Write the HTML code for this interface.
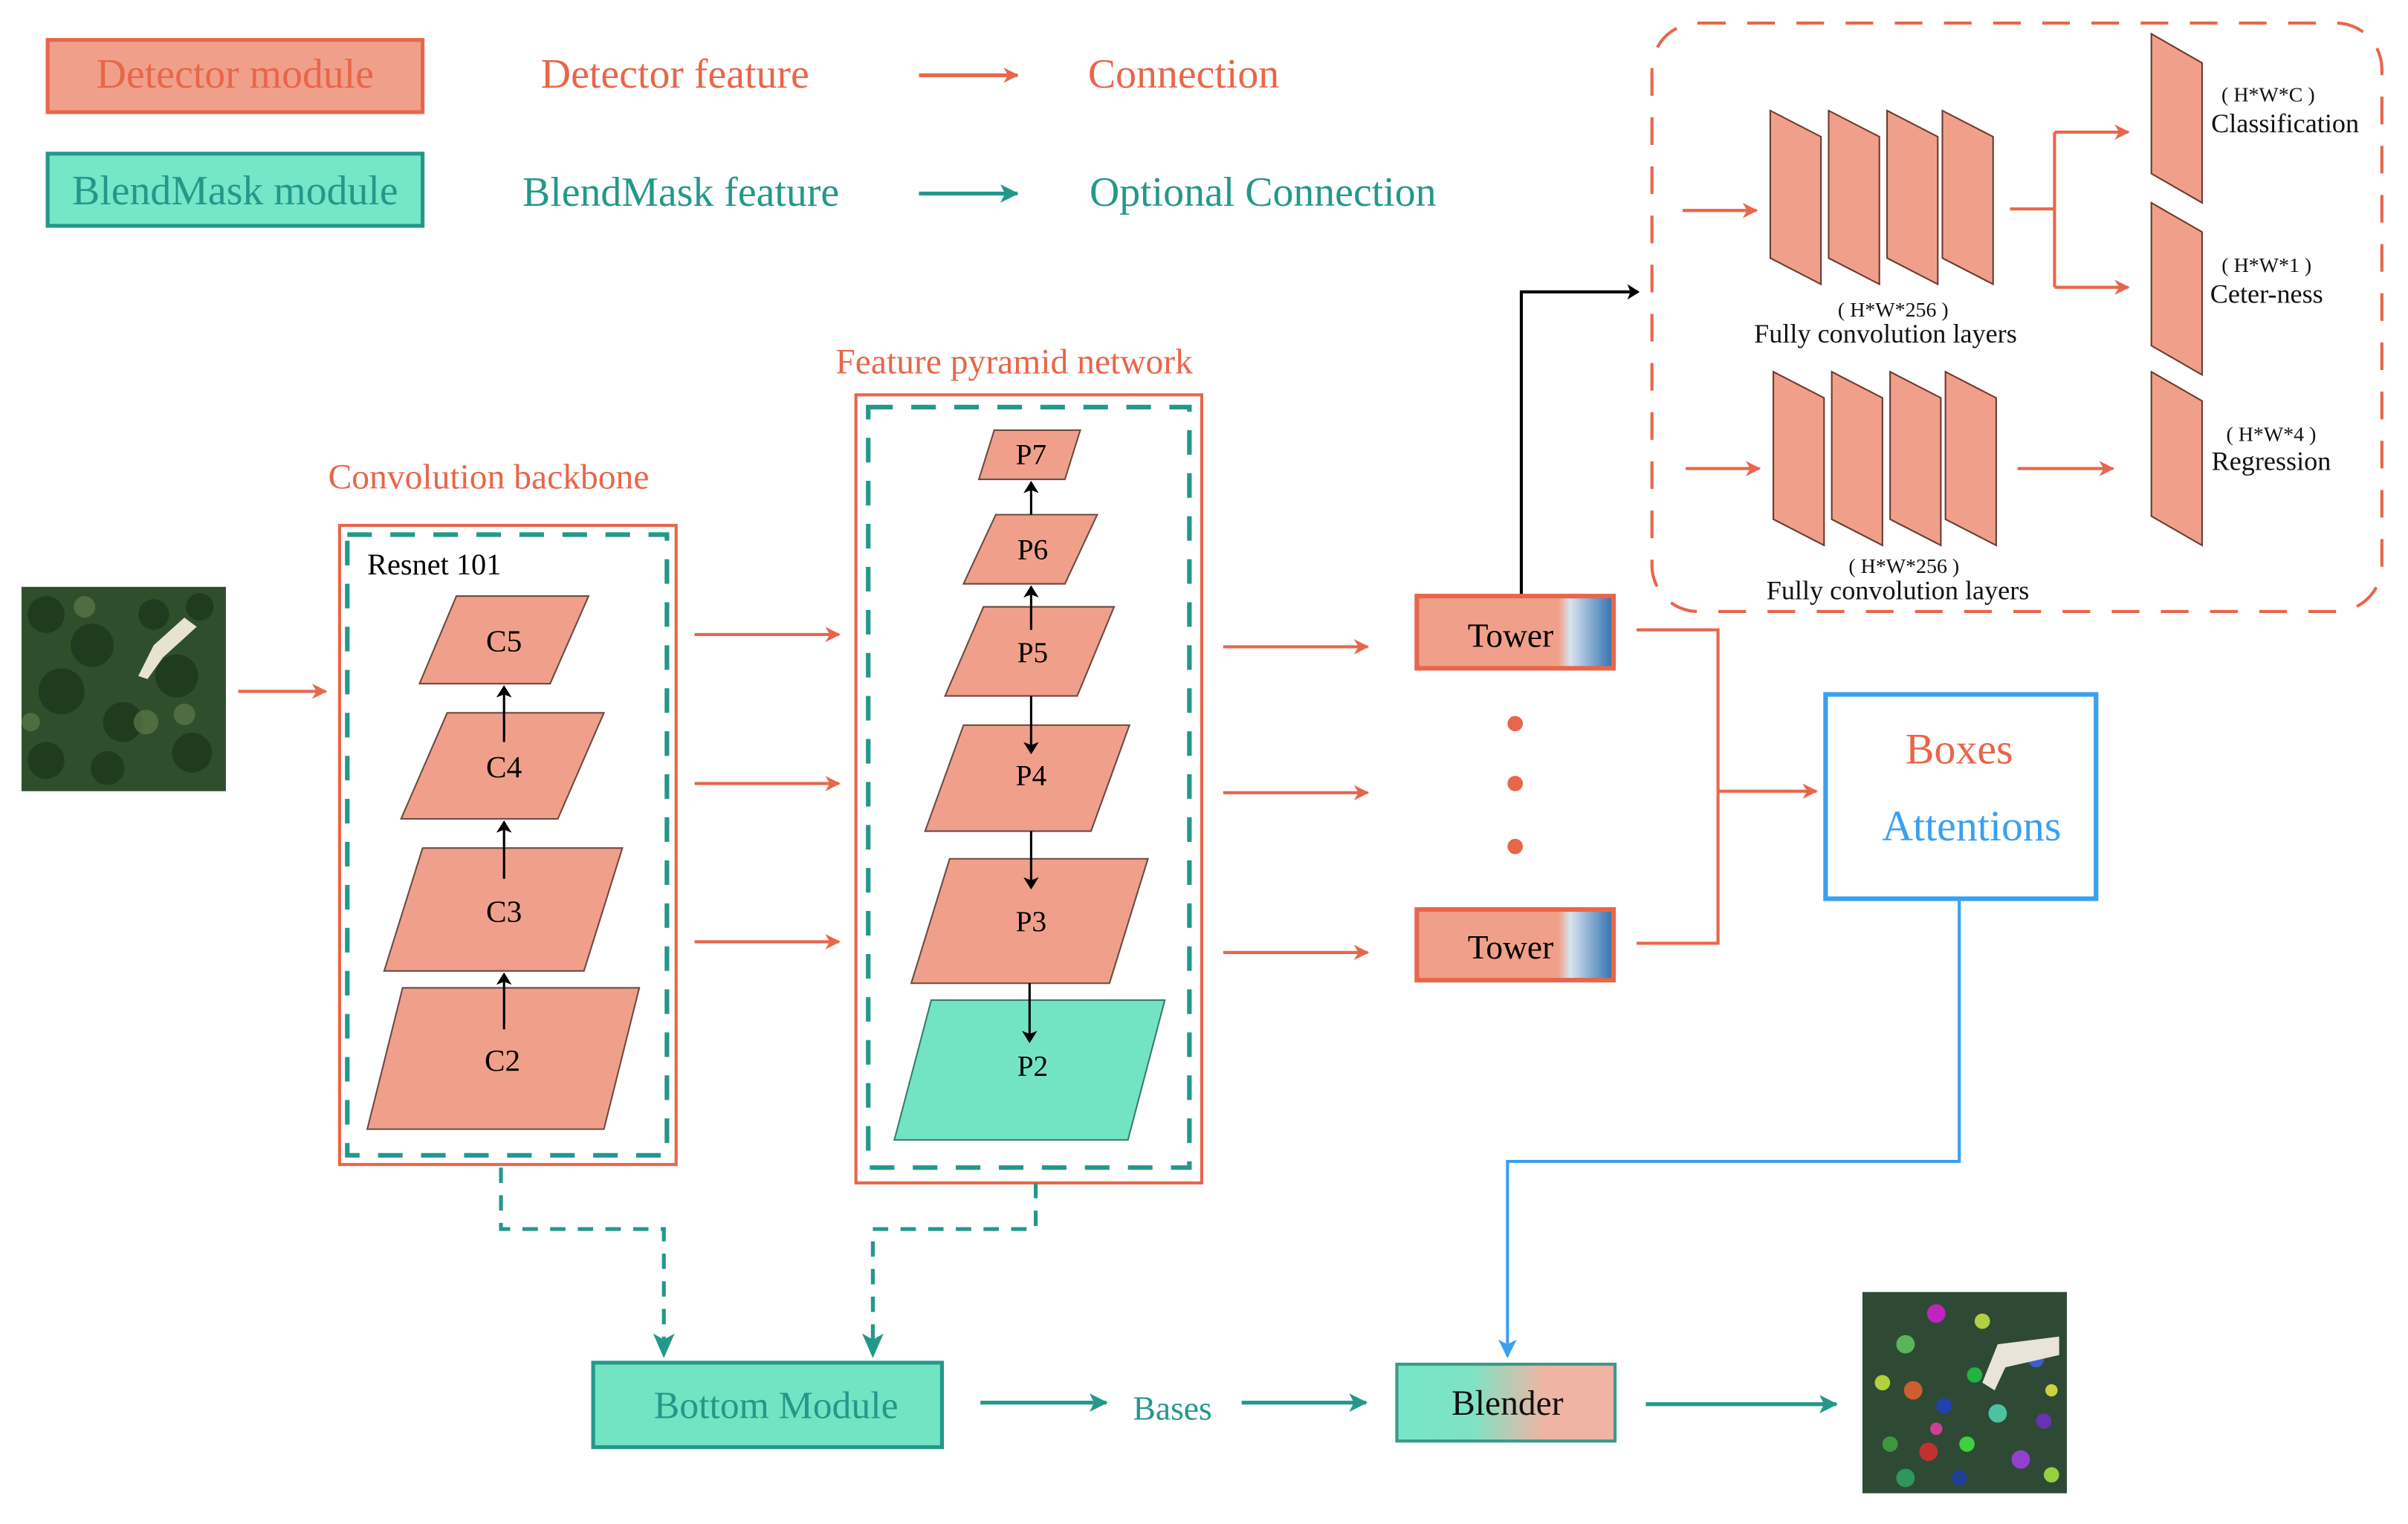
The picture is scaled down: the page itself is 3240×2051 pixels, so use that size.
<!DOCTYPE html>
<html><head><meta charset="utf-8"><style>html,body{margin:0;padding:0;background:#fff}svg{display:block}</style></head><body>
<svg width="3240" height="2051" viewBox="0 0 1567 992" preserveAspectRatio="none" xmlns="http://www.w3.org/2000/svg" font-family="Liberation Serif, serif">
<defs>
<marker id="ao" markerWidth="10" markerHeight="10" refX="9" refY="5" orient="auto" markerUnits="userSpaceOnUse"><path d="M0,0 L10,5 L0,10 L3,5z" fill="#E8664A"/></marker>
<marker id="at" markerWidth="12" markerHeight="12" refX="11" refY="6" orient="auto" markerUnits="userSpaceOnUse"><path d="M0,0 L12,6 L0,12 L3,6z" fill="#23988A"/></marker>
<marker id="ab" markerWidth="8" markerHeight="10" refX="7" refY="5" orient="auto" markerUnits="userSpaceOnUse"><path d="M0,0 L8,5 L0,10 L2,5z" fill="#000"/></marker>
<marker id="abl" markerWidth="12" markerHeight="12" refX="11" refY="6" orient="auto" markerUnits="userSpaceOnUse"><path d="M0,0 L12,6 L0,12 L3,6z" fill="#3AA0F0"/></marker>
<linearGradient id="tw" x1="0" x2="1"><stop offset="0" stop-color="#F0A08A"/><stop offset="0.72" stop-color="#F0A08A"/><stop offset="0.78" stop-color="#d8e4ee"/><stop offset="1" stop-color="#2e6fb0"/></linearGradient>
<linearGradient id="bl" x1="0" x2="1"><stop offset="0" stop-color="#76E6C8"/><stop offset="0.35" stop-color="#80E2C4"/><stop offset="0.68" stop-color="#F0B4A4"/><stop offset="1" stop-color="#F0B4A4"/></linearGradient>
</defs>
<!-- legend -->
<rect x="31" y="26" width="244" height="47" fill="#F0A08A" stroke="#E8664A" stroke-width="2.5"/>
<text x="153" y="57" font-size="27" fill="#E8664A" text-anchor="middle">Detector module</text>
<rect x="31" y="100" width="244" height="47" fill="#76E6C8" stroke="#23988A" stroke-width="2.5"/>
<text x="153" y="133" font-size="27" fill="#23988A" text-anchor="middle">BlendMask module</text>
<text x="352" y="57" font-size="27" fill="#E8664A">Detector feature</text>
<text x="340" y="134" font-size="27" fill="#23988A">BlendMask feature</text>
<line x1="598" y1="49" x2="662" y2="49" stroke="#E8664A" stroke-width="2.5" marker-end="url(#ao)"/>
<line x1="598" y1="126" x2="662" y2="126" stroke="#23988A" stroke-width="2.5" marker-end="url(#at)"/>
<text x="708" y="57" font-size="27" fill="#E8664A">Connection</text>
<text x="709" y="134" font-size="27" fill="#23988A">Optional Connection</text>

<!-- head dashed box -->
<rect x="1075" y="15" width="475" height="383" rx="30" fill="none" stroke="#E8664A" stroke-width="2" stroke-dasharray="18,14"/>
<g fill="#F0A08A" stroke="#6a3a30" stroke-width="1">
<polygon points="1152,72 1185,89 1185,185 1152,168"/>
<polygon points="1190,72 1223,89 1223,185 1190,168"/>
<polygon points="1228,72 1261,89 1261,185 1228,168"/>
<polygon points="1264,72 1297,89 1297,185 1264,168"/>
<polygon points="1154,242 1187,259 1187,355 1154,338"/>
<polygon points="1192,242 1225,259 1225,355 1192,338"/>
<polygon points="1230,242 1263,259 1263,355 1230,338"/>
<polygon points="1266,242 1299,259 1299,355 1266,338"/>
<polygon points="1400,22 1433,41 1433,132 1400,113"/>
<polygon points="1400,132 1433,151 1433,244 1400,225"/>
<polygon points="1400,242 1433,261 1433,355 1400,336"/>
</g>
<g font-size="13.5" text-anchor="middle" fill="#111">
<text x="1232" y="206">( H*W*256 )</text>
<text x="1239" y="373">( H*W*256 )</text>
<text x="1476" y="66">( H*W*C )</text>
<text x="1475" y="177">( H*W*1 )</text>
<text x="1478" y="287">( H*W*4 )</text>
</g>
<g font-size="17.5" text-anchor="middle" fill="#111">
<text x="1227" y="223">Fully convolution layers</text>
<text x="1235" y="390">Fully convolution layers</text>
<text x="1487" y="86">Classification</text>
<text x="1475" y="197">Ceter-ness</text>
<text x="1478" y="306">Regression</text>
</g>
<g stroke="#E8664A" stroke-width="2" fill="none">
<line x1="1095" y1="137" x2="1143" y2="137" marker-end="url(#ao)"/>
<line x1="1097" y1="305" x2="1145" y2="305" marker-end="url(#ao)"/>
<polyline points="1308,136 1337,136"/>
<polyline points="1337,86 1337,187"/>
<line x1="1337" y1="86" x2="1385" y2="86" marker-end="url(#ao)"/>
<line x1="1337" y1="187" x2="1385" y2="187" marker-end="url(#ao)"/>
<line x1="1313" y1="305" x2="1375" y2="305" marker-end="url(#ao)"/>
</g>
<polyline points="990,387 990,190 1066,190" fill="none" stroke="#000" stroke-width="2" marker-end="url(#ab)"/>

<!-- backbone -->
<text x="318" y="318" font-size="23" fill="#E8664A" text-anchor="middle">Convolution backbone</text>
<rect x="221" y="342" width="219" height="416" fill="none" stroke="#E8664A" stroke-width="2"/>
<rect x="226" y="348" width="208" height="404" fill="none" stroke="#23988A" stroke-width="3" stroke-dasharray="16,12"/>
<text x="239" y="374" font-size="19.5" fill="#000">Resnet 101</text>
<g fill="#F0A08A" stroke="#6a4a40" stroke-width="1">
<polygon points="297,388 383,388 358,445 273,445"/>
<polygon points="291,464 393,464 363,533 261,533"/>
<polygon points="275,552 405,552 380,632 250,632"/>
<polygon points="262,643 416,643 393,735 239,735"/>
</g>
<g font-size="20" text-anchor="middle" fill="#000">
<text x="328" y="424">C5</text><text x="328" y="506">C4</text><text x="328" y="600">C3</text><text x="327" y="697">C2</text>
</g>
<g stroke="#000" stroke-width="1.5">
<line x1="328" y1="670" x2="328" y2="634" marker-end="url(#ab)"/>
<line x1="328" y1="572" x2="328" y2="535" marker-end="url(#ab)"/>
<line x1="328" y1="483" x2="328" y2="447" marker-end="url(#ab)"/>
</g>

<!-- input image -->
<rect x="14" y="382" width="133" height="133" fill="#2f4f2c"/>
<g fill="#1f3a1e" opacity="0.9">
<circle cx="30" cy="400" r="12"/><circle cx="60" cy="420" r="14"/><circle cx="40" cy="450" r="15"/><circle cx="80" cy="470" r="13"/><circle cx="30" cy="495" r="12"/><circle cx="115" cy="440" r="14"/><circle cx="125" cy="490" r="13"/><circle cx="70" cy="500" r="11"/><circle cx="100" cy="400" r="10"/><circle cx="130" cy="395" r="9"/>
</g>
<g fill="#5d7a4a" opacity="0.7"><circle cx="95" cy="470" r="8"/><circle cx="55" cy="395" r="7"/><circle cx="120" cy="465" r="7"/><circle cx="20" cy="470" r="6"/></g>
<path d="M90,440 L100,420 L120,402 L128,408 L106,428 L96,442z" fill="#e8e2d0"/>
<line x1="155" y1="450" x2="212" y2="450" stroke="#E8664A" stroke-width="2" marker-end="url(#ao)"/>

<g stroke="#E8664A" stroke-width="2">
<line x1="452" y1="413" x2="546" y2="413" marker-end="url(#ao)"/>
<line x1="452" y1="510" x2="546" y2="510" marker-end="url(#ao)"/>
<line x1="452" y1="613" x2="546" y2="613" marker-end="url(#ao)"/>
</g>

<!-- FPN -->
<text x="660" y="243" font-size="23" fill="#E8664A" text-anchor="middle">Feature pyramid network</text>
<rect x="557" y="257" width="225" height="513" fill="none" stroke="#E8664A" stroke-width="2"/>
<rect x="565" y="265" width="209" height="495" fill="none" stroke="#23988A" stroke-width="3" stroke-dasharray="16,12"/>
<g fill="#F0A08A" stroke="#6a4a40" stroke-width="1">
<polygon points="647,280 703,280 693,312 637,312"/>
<polygon points="648,335 714,335 693,380 627,380"/>
<polygon points="640,395 725,395 701,453 615,453"/>
<polygon points="627,472 735,472 710,541 602,541"/>
<polygon points="618,559 747,559 722,640 593,640"/>
</g>
<polygon points="606,651 758,651 734,742 582,742" fill="#72E4C4" stroke="#3a7a6a" stroke-width="1"/>
<g font-size="19" text-anchor="middle" fill="#000">
<text x="671" y="302">P7</text><text x="672" y="364">P6</text><text x="672" y="431">P5</text><text x="671" y="511">P4</text><text x="671" y="606">P3</text><text x="672" y="700">P2</text>
</g>
<g stroke="#000" stroke-width="1.5">
<line x1="671" y1="335" x2="671" y2="314" marker-end="url(#ab)"/>
<line x1="671" y1="410" x2="671" y2="382" marker-end="url(#ab)"/>
<line x1="671" y1="453" x2="671" y2="490" marker-end="url(#ab)"/>
<line x1="671" y1="541" x2="671" y2="578" marker-end="url(#ab)"/>
<line x1="670" y1="640" x2="670" y2="678" marker-end="url(#ab)"/>
</g>

<g stroke="#E8664A" stroke-width="2">
<line x1="796" y1="421" x2="890" y2="421" marker-end="url(#ao)"/>
<line x1="796" y1="516" x2="890" y2="516" marker-end="url(#ao)"/>
<line x1="796" y1="620" x2="890" y2="620" marker-end="url(#ao)"/>
</g>
<rect x="922" y="388" width="128" height="47" fill="url(#tw)" stroke="#E8664A" stroke-width="3"/>
<rect x="922" y="592" width="128" height="46" fill="url(#tw)" stroke="#E8664A" stroke-width="3"/>
<text x="983" y="421" font-size="22" text-anchor="middle" fill="#000">Tower</text>
<text x="983" y="624" font-size="22" text-anchor="middle" fill="#000">Tower</text>
<g fill="#E8664A"><circle cx="986" cy="471" r="5"/><circle cx="986" cy="510" r="5"/><circle cx="986" cy="551" r="5"/></g>
<polyline points="1065,410 1118,410 1118,614 1065,614" fill="none" stroke="#E8664A" stroke-width="2"/>
<line x1="1118" y1="515" x2="1182" y2="515" stroke="#E8664A" stroke-width="2" marker-end="url(#ao)"/>
<rect x="1188" y="452" width="176" height="133" fill="none" stroke="#3AA0F0" stroke-width="3"/>
<text x="1275" y="497" font-size="28" fill="#E8664A" text-anchor="middle">Boxes</text>
<text x="1283" y="547" font-size="28" fill="#3AA0F0" text-anchor="middle">Attentions</text>
<polyline points="1275,586 1275,756 981,756 981,883" fill="none" stroke="#3AA0F0" stroke-width="2" marker-end="url(#abl)"/>

<!-- bottom -->
<g stroke="#23988A" stroke-width="2.5" fill="none" stroke-dasharray="10,8">
<polyline points="326,760 326,800 432,800 432,872"/>
<polyline points="674,770 674,800 568,800 568,872"/>
</g>
<path d="M425,868 L432,884 L439,868 L432,872z" fill="#23988A"/>
<path d="M561,868 L568,884 L575,868 L568,872z" fill="#23988A"/>
<rect x="386" y="887" width="227" height="55" fill="#72E4C4" stroke="#23988A" stroke-width="2.5"/>
<text x="505" y="923" font-size="25" text-anchor="middle" fill="#23988A">Bottom Module</text>
<line x1="638" y1="913" x2="720" y2="913" stroke="#23988A" stroke-width="2.5" marker-end="url(#at)"/>
<text x="763" y="924" font-size="22" text-anchor="middle" fill="#23988A">Bases</text>
<line x1="808" y1="913" x2="889" y2="913" stroke="#23988A" stroke-width="2.5" marker-end="url(#at)"/>
<rect x="909" y="888" width="142" height="50" fill="url(#bl)" stroke="#3a9a88" stroke-width="2"/>
<text x="981" y="921" font-size="23" text-anchor="middle" fill="#111">Blender</text>
<line x1="1071" y1="914" x2="1195" y2="914" stroke="#23988A" stroke-width="2.5" marker-end="url(#at)"/>
<rect x="1212" y="841" width="133" height="131" fill="#2e4a34"/>
<g opacity="0.9">
<circle cx="1260" cy="855" r="6" fill="#d020d0"/><circle cx="1290" cy="860" r="5" fill="#c0e040"/><circle cx="1240" cy="875" r="6" fill="#60c060"/><circle cx="1310" cy="880" r="5" fill="#e0a030"/>
<circle cx="1225" cy="900" r="5" fill="#c0e040"/><circle cx="1245" cy="905" r="6" fill="#e06030"/><circle cx="1265" cy="915" r="5" fill="#2040c0"/><circle cx="1300" cy="920" r="6" fill="#50d0b0"/>
<circle cx="1330" cy="925" r="5" fill="#7030c0"/><circle cx="1230" cy="940" r="5" fill="#40a040"/><circle cx="1255" cy="945" r="6" fill="#d03030"/><circle cx="1280" cy="940" r="5" fill="#40e040"/>
<circle cx="1315" cy="950" r="6" fill="#a040e0"/><circle cx="1240" cy="962" r="6" fill="#30a060"/><circle cx="1275" cy="962" r="5" fill="#2040a0"/><circle cx="1335" cy="960" r="5" fill="#a0e040"/>
<circle cx="1325" cy="885" r="5" fill="#4060e0"/><circle cx="1285" cy="895" r="5" fill="#20c040"/><circle cx="1260" cy="930" r="4" fill="#e040a0"/><circle cx="1335" cy="905" r="4" fill="#e0e040"/>
</g>
<path d="M1290,900 L1300,875 L1340,870 L1340,882 L1305,890 L1298,905z" fill="#e8e4d8"/>
</svg>
</body></html>
